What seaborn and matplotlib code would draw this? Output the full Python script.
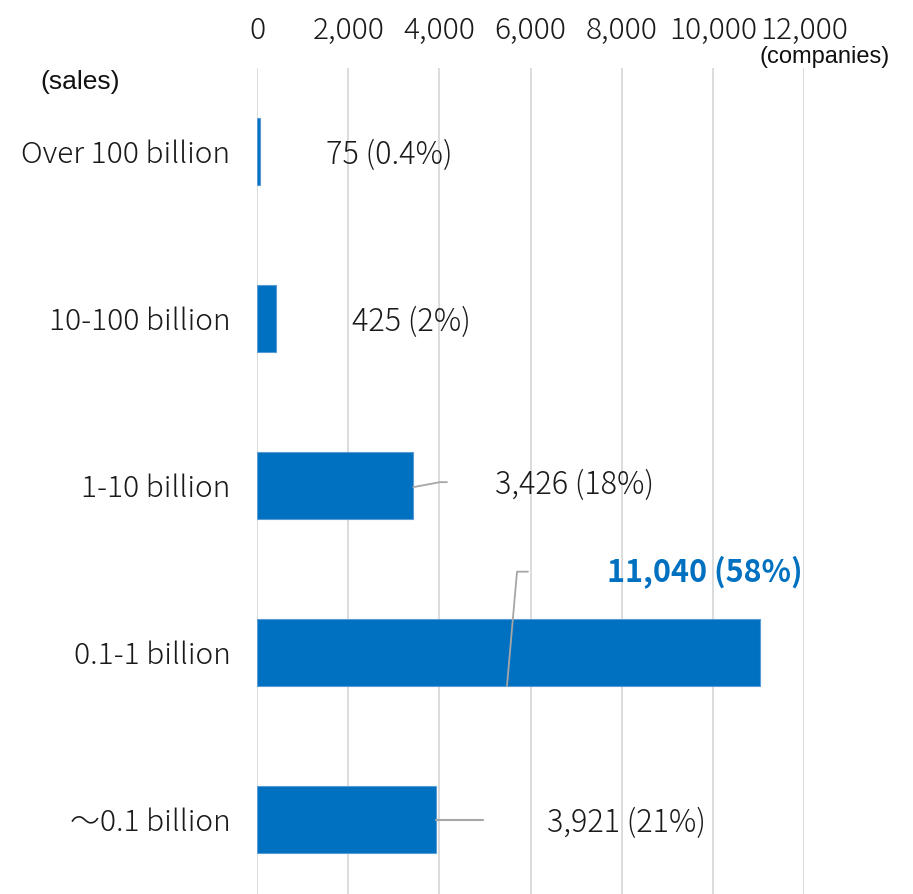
import matplotlib
matplotlib.use("Agg")
import matplotlib.pyplot as plt
import seaborn as sns
import pandas as pd

categories = ["Over 100 billion", "10-100 billion", "1-10 billion", "0.1-1 billion", "～0.1 billion"]
counts = [75, 425, 3426, 11040, 3921]
shares = ["0.4%", "2%", "18%", "58%", "21%"]
xticks = [0, 2000, 4000, 6000, 8000, 10000, 12000]

sns.set_theme(style="white")
plt.rcParams["font.family"] = ["Noto Sans CJK JP", "DejaVu Sans"]
plt.rcParams["font.weight"] = "light"

BLUE = "#0070C0"
GREY = "#A6A6A6"
TXT = "#1a1a1a"

fig = plt.figure(figsize=(9.13, 8.94), dpi=100)
ax = fig.add_axes([257 / 913, -9 / 894, 547 / 913, 835 / 894])

df = pd.DataFrame({"category": categories, "count": counts})
sns.barplot(data=df, x="count", y="category", orient="h", color=BLUE,
            saturation=1, width=0.4, ax=ax, edgecolor="#5B9BD5", linewidth=0.8, zorder=3)

ax.set_xlim(0, 12000)
ax.set_ylim(4.5, -0.5)
ax.set_xticks(xticks)
ax.set_xticklabels([f"{t:,}" for t in xticks])
ax.xaxis.tick_top()
ax.tick_params(axis="x", length=0, pad=16, labelsize=21.5, colors=TXT)
ax.tick_params(axis="y", length=0, pad=19, labelsize=21.5, colors=TXT)
for lbl in ax.get_xticklabels() + ax.get_yticklabels():
    lbl.set_fontweight("light")
ax.set_xlabel("")
ax.set_ylabel("")
for s in ax.spines.values():
    s.set_visible(False)
ax.grid(axis="x", color="#D9D9D9", linewidth=1.3, zorder=0)
ax.grid(axis="y", visible=False)
ax.set_axisbelow(True)

# data labels
label_x = [1514, 2084, 5221, 7678, 6362]
label_y = [0.018, 1.018, 1.995, 2.516, 4.018]
for i, (v, s) in enumerate(zip(counts, shares)):
    txt = f"{v:,} ({s})"
    if i == 3:
        ax.text(label_x[i], label_y[i], txt, ha="left", va="center", fontsize=22,
                fontweight="bold", color=BLUE, zorder=5)
    else:
        ax.text(label_x[i], label_y[i], txt, ha="left", va="center",
                fontsize=22, fontweight="light", color=TXT, zorder=5)

# leader lines
ax.plot([3426, 4015, 4168], [2.01, 1.98, 1.98], color=GREY, lw=1.3, zorder=4)
ax.plot([5484, 5704, 5945], [3.2, 2.516, 2.516], color=GREY, lw=1.3, zorder=4)
ax.plot([3921, 4958], [4, 4], color=GREY, lw=1.5, zorder=4)

fig.text(40 / 913, 1 - 82 / 894, "(sales)", ha="left", va="center", fontsize=19,
         family=["Liberation Sans"], fontweight="normal", color="#111111")
fig.text(890 / 913, 1 - 57 / 894, "(companies)", ha="right", va="center", fontsize=17,
         family=["Liberation Sans"], fontweight="normal", color="#111111")

fig.savefig("out.png", dpi=100)
